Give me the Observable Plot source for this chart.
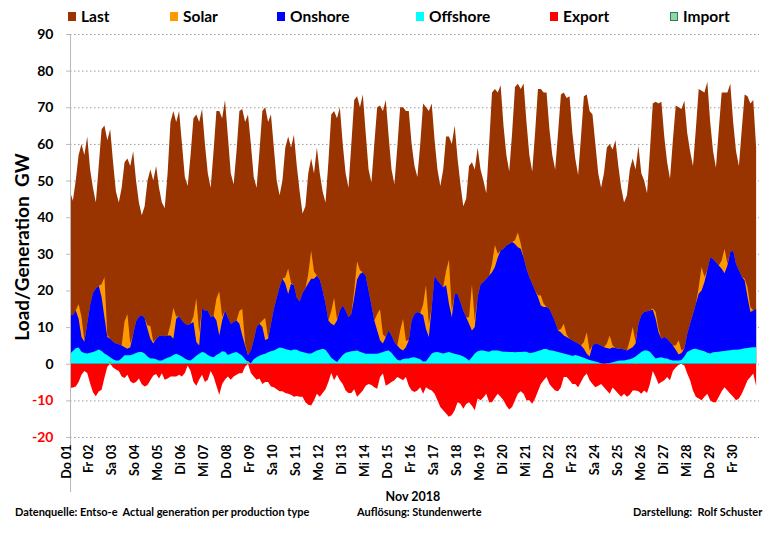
<!DOCTYPE html>
<html><head><meta charset="utf-8">
<script src="https://cdn.jsdelivr.net/npm/d3@7"></script>
<script src="https://cdn.jsdelivr.net/npm/@observablehq/plot@0.6"></script>
<style>
body{margin:0;background:#fff;}
#wrap{position:relative;width:774px;height:533px;font-family:Lato,"Open Sans",sans-serif;font-weight:bold;color:#000;}
#chart{position:absolute;left:0;top:0;}
.lg{position:absolute;top:7px;font-size:15.5px;line-height:18px;white-space:nowrap;}
.sw{position:absolute;top:12px;width:8px;height:9px;}
.ft{position:absolute;font-size:11px;white-space:pre;line-height:13px;}
</style></head>
<body><div id="wrap"><div id="chart"></div></div>
<script>
// ---- data: 3-hourly values (00,03,06,09,12,15,18,21 h) for each day of Nov 2018, GW ----
const legendNames = ["Last","Solar","Onshore","Offshore","Export","Import"];
const legendColors = ["#993300","#FF9900","#0000FF","#00FFFF","#FF0000","#66BB88"];
const dayLabels = ["Do 01","Fr 02","Sa 03","So 04","Mo 05","Di 06","Mi 07","Do 08","Fr 09","Sa 10",
  "So 11","Mo 12","Di 13","Mi 14","Do 15","Fr 16","Sa 17","So 18","Mo 19","Di 20",
  "Mi 21","Do 22","Fr 23","Sa 24","So 25","Mo 26","Di 27","Mi 28","Do 29","Fr 30"];
const yTicks = [-20,-10,0,10,20,30,40,50,60,70,80,90];

const load = [
47,44.5,50,57,60,57,62,53,
48,44,54,64,65,61,64,55,
47,44,48,55,56,54,58,50,
44,40.5,43,50,53,50,54,48,
44,42.5,52,66,69,66,69,60,
51,48.5,57,67,68,66,69.5,60,
52,48,58,69,69,67,72,62,
52,49,58,69,69.5,66,68,60,
51,48,58,69,70,66,68,59,
50,46,50,59,62,59,62.5,54,
47,41,43,52,56,52,59,52,
47,44,55,68,69,67,70,60,
52,48,60,72,73,70,73.5,63,
53,49.5,60,70,70.5,69,72,62,
53,49,59,70,70,69,69,60,
54,51,60,71,70,69,71,61,
53,48.5,53,62,62,60,65,56,
49,43,45,54,55,53,59,53,
50,46.5,60,74,75,74,76,65,
57,52.5,63,75.5,76.4,75,76.5,66,
57,52.5,63,75,75,74,74,64,
57,53,63,73.5,74,72.5,73,63,
56,51.5,62,73,73.5,69,68,60,
52,48,52,59,60,58.5,61,54,
48,44,46,53,56,53,59.5,52,
50,46.5,58,71,71.5,71,71.5,62,
55,50.5,61,70.5,70,69.5,71.8,63,
58,54,64,75,74.5,74,77,66,
58,53.5,64,74,74,74,76.4,66,
58,54,64,73.5,73,71,72,59];

const offshore = [
2.7,3.5,4.2,4.4,3.3,2.9,2.8,3.0,
3.2,3.5,3.9,3.5,2.8,2.3,1.8,1.2,
0.9,0.9,1.5,2.3,2.3,2.3,2.6,2.9,
3.2,3.2,2.8,2.0,1.4,1.4,1.2,0.9,
0.9,1.3,1.6,1.9,2.4,2.7,2.4,2.0,
1.4,1.0,0.9,1.5,2.2,2.7,3.2,3.0,
2.4,2.0,1.8,2.4,2.8,3.4,3.3,2.4,
2.7,3.0,3.2,2.7,2.2,1.2,0.5,0.1,
1.2,1.8,2.2,2.5,2.7,3.1,3.4,3.6,
4.0,4.4,4.3,4.0,3.8,3.6,3.9,3.8,
3.4,3.2,3.0,2.8,2.8,3.2,3.6,3.8,
4.1,3.8,2.8,1.6,1.0,0.5,1.4,2.4,
3.0,3.2,3.4,3.5,3.6,3.3,3.0,2.7,
2.7,2.7,2.7,2.7,2.9,3.2,3.5,3.6,
3.0,2.0,1.1,0.9,1.3,1.4,1.4,1.7,
1.8,1.5,1.2,0.6,0.7,1.7,2.8,3.1,
3.2,3.0,2.8,3.0,3.2,2.9,2.7,2.5,
2.3,2.0,1.5,0.9,1.8,2.8,3.4,3.6,
3.6,3.4,3.3,3.6,3.6,3.6,3.4,3.3,
3.3,3.2,3.2,3.1,3.2,3.2,3.3,3.3,
2.9,3.0,3.2,3.5,3.7,4.0,4.0,3.7,
3.6,3.4,3.2,3.0,2.8,2.6,2.4,2.1,
2.4,2.2,1.9,1.6,1.3,1.0,0.8,0.6,
0.4,0.1,0.0,0.1,0.2,0.4,0.6,0.8,
0.9,0.9,1.1,1.2,1.5,2.0,2.6,3.2,
3.6,3.6,3.3,2.3,1.4,1.6,1.8,1.5,
1.4,1.1,0.9,0.9,0.9,1.0,2.0,3.2,
3.6,4.0,4.1,3.8,3.6,3.4,3.0,2.8,
3.1,3.2,3.3,3.4,3.5,3.6,3.7,3.8,
3.8,3.9,4.0,4.2,4.3,4.4,4.5,4.5];

const onshore = [
10.9,9.7,10.3,7.9,4.0,3.1,8.2,13.0,
16.1,17.0,17.4,14.7,9.9,5.0,5.0,4.8,
4.6,4.4,3.5,2.2,1.8,2.2,5.4,8.6,
9.6,10.0,9.7,7.5,5.4,4.1,5.6,6.6,
6.8,6.2,6.1,5.8,4.4,9.6,10.6,9.8,
9.6,9.5,10.0,9.9,3.7,2.3,11.8,11.5,
12.1,10.7,11.2,9.4,4.9,8.4,11.2,10.3,
8.2,8.4,8.6,8.2,5.5,3.8,1.8,3.5,
5.3,8.2,8.7,7.5,3.8,3.7,7.5,11.4,
14.0,16.6,18.9,17.8,15.2,18.2,17.5,14.2,
13.6,16.1,17.5,19.2,20.4,20.0,20.4,19.2,
15.9,12.6,9.0,9.3,9.5,11.3,13.1,13.5,
11.5,9.5,10.2,14.5,19.4,21.2,22.0,21.3,
17.3,13.3,9.1,6.4,3.5,2.3,3.8,5.5,
4.7,3.9,3.9,3.2,2.3,3.1,5.0,10.1,
11.8,12.6,12.6,12.6,8.8,5.6,12.7,20.9,
19.5,18.8,18.1,18.4,13.2,9.8,16.3,16.5,
14.5,12.5,11.2,10.0,7.3,7.2,14.8,18.0,
18.7,19.8,20.8,21.4,22.8,25.4,27.5,28.1,
29.0,29.5,30.0,29.6,28.6,28.2,25.7,22.7,
20.7,18.8,16.8,14.7,12.2,11.5,11.5,11.3,
9.6,8.0,5.9,5.6,4.9,4.7,4.4,4.3,
3.5,3.3,3.1,2.5,1.4,1.0,4.2,4.9,
4.9,4.9,4.5,4.2,3.9,4.0,3.7,3.3,
3.2,3.0,2.5,2.9,3.0,3.5,8.3,10.0,
10.5,10.7,11.2,12.4,10.9,7.0,5.0,5.8,
5.4,4.8,4.1,2.9,1.6,1.9,2.1,5.0,
7.3,9.6,12.3,15.3,16.4,18.9,22.5,26.2,
25.5,24.5,23.5,22.5,21.2,23.2,26.8,27.1,
23.5,21.6,19.8,18.5,13.9,9.7,10.0,10.5];

const solar = [
0,0,0,4,5.5,0.3,0,0,
0,0,0,3.5,11,0.5,0,0,
0,0,0,7,9.5,1,0,0,
0,0,0,1,3.5,0.5,0,0,
0,0,0,3,8.5,0.5,0,0,
0,0,0,1.5,12,3.5,0,0,
0,0,0,6,12,1,0,0,
0,0,0,3.5,7.3,0.5,0,0,
0,0,0,1.8,6,0.2,0,0,
0,0,0,1.8,7,0.3,0,0,
0,0,0,2.5,7.7,2,0,0,
0,0,0,3.5,7.5,0.3,0,0,
0,0,0,2,5,1,0,0,
0,0,0,4.5,8.5,2.5,0,0,
0,0,0,5,8.7,1.8,0,0,
0,0,0,3,12,3.5,0,0,
0,0,0,4,12,1.8,0,0,
0,0,0,1.8,12.5,1.8,0,0,
0,0,0,2.3,6,1,0,0,
0,0,0,1,4,1.4,0,0,
0,0,0,0.5,2.7,0.9,0,0,
0,0,0,0.9,3.2,0.6,0,0,
0,0,0,1.8,5.9,1.6,0,0,
0,0,0,1.2,3.6,0.6,0,0,
0,0,0,2.3,5.5,0.5,0,0,
0,0,0,0.4,1.8,0.9,0,0,
0,0,0,1.2,3.9,0.7,0,0,
0,0,0,1.8,6.4,1.4,0,0,
0,0,0,2.3,6.7,0.5,0,0,
0,0,0,0.5,2.7,1.4,0,0];

const exportGW = [
-6.6,-6.5,-6.2,-5,-3,-2,-2.5,-5.3,
-7.8,-8.9,-7.6,-7.1,-3.8,-0.8,0,-1,
-1.6,-2,-3.5,-3.9,-3,-4.8,-5.3,-5,
-4,-5.6,-6.2,-5.8,-4.5,-3.2,-2.8,-4,
-2.6,-4.4,-4,-3.5,-3.5,-3.5,-3,-3.5,
-2.5,-0.5,-2,-5,-6,-4.3,-3,-5,
-4.4,-2,-3.5,-6,-8.5,-5.5,-4.3,-3.5,
-4.4,-3.5,-3,-2.6,-2.6,-0.8,0,-2.5,
-3.5,-4.4,-4,-5.5,-5,-5,-6.2,-6.4,
-7,-7.5,-7.5,-8,-8.2,-8.5,-9,-8.8,
-9,-9,-10.5,-11.2,-11.4,-10,-8.2,-9,
-8,-7,-5,-2.5,-4.5,-3,-4.5,-5.5,
-7.3,-8,-8,-7,-9,-8.2,-7.3,-6,
-5.5,-5.8,-6.4,-6.8,-3.6,-2.7,-6,-5.5,
-5,-4.5,-3.6,-4,-4.5,-3.6,-6,-7.3,
-7.7,-7.3,-6.4,-8.2,-6.4,-7,-7.3,-8.2,
-10,-11.8,-12.7,-13.6,-14.5,-14,-12.7,-10.5,
-10.9,-12.3,-11,-10.5,-11.5,-12.7,-9.5,-10,
-9.2,-8.2,-10.5,-10.5,-9.3,-8.2,-9,-10,
-11.5,-12.5,-11.8,-10,-8.2,-7.5,-8.2,-10,
-10,-10.9,-9.5,-7.5,-5.5,-4.5,-3.6,-5.5,
-6.5,-7.3,-7.5,-6.4,-3.6,-3.6,-4.5,-5.5,
-5.5,-6.4,-5,-3.5,-2.7,-4.5,-5.5,-6.4,
-6,-5.5,-6.4,-7.3,-8.2,-6.5,-7.3,-8.2,
-9,-8.2,-9,-8.5,-7.3,-7.3,-7.5,-8.2,
-7.3,-8,-5.5,-2,-3.6,-5.5,-5,-4.5,
-3.6,-4.5,-2,-1,-0.3,0,-0.5,-2.7,
-4.5,-7.3,-9,-9.5,-10,-9,-8.2,-10,
-10.5,-10.5,-9,-7.5,-6.4,-7.3,-8.2,-9,
-10,-9.5,-8.2,-6.4,-4.5,-3.6,-2.7,-6];

const importGW = [
0,0,0,0,0,0,0,0, 0,0,0,0,0,0,0.8,0, 0,0,0,0,0,0,0,0, 0,0,0,0,0,0,0,0,
0,0,0,0,0,0,0,0, 0,0,0,0,0,0,0,0, 0,0,0,0,0,0,0,0, 0,0,0,0,0,0,0.8,0,
0,0,0,0,0,0,0,0, 0,0,0,0,0,0,0,0, 0,0,0,0,0,0,0,0, 0,0,0,0,0,0,0,0,
0,0,0,0,0,0,0,0, 0,0,0,0,0,0,0,0, 0,0,0,0,0,0,0,0, 0,0,0,0,0,0,0,0,
0,0,0,0,0,0,0,0, 0,0,0,0,0,0,0,0, 0,0,0,0,0,0,0,0, 0,0,0,0,0,0,0,0,
0,0,0,0,0,0,0,0, 0,0,0,0,0,0,0,0, 0,0,0,0,0,0,0,0, 0,0,0,0,0,0,0,0,
0,0,0,0,0,0.3,0,0, 0,0,0,0,0,0,0,0, 0,0,0,0,0,0,0,0, 0,0,0,0,0,0,0,0];

// ---- build table ----
const t0 = Date.UTC(2018,10,1), t1 = Date.UTC(2018,11,1), H = 3600e3;
const rows = load.map((v,i)=>({
  t: new Date(t0 + i*3*H), load: v, off: offshore[i],
  wind: offshore[i] + onshore[i], tot: offshore[i] + onshore[i] + solar[i],
  exp: exportGW[i], imp: importGW[i]
}));
const days = dayLabels.map((lab,i)=>({lab, t: new Date(t0 + i*24*H)}));
const x0 = new Date(t0), xTick = new Date(t0 - 4*H);

const chart = Plot.plot({
  width: 774, height: 533,
  marginLeft: 70, marginRight: 15, marginTop: 34, marginBottom: 96,
  x: {type: "utc", domain: [new Date(t0), new Date(t1)], axis: null},
  y: {domain: [-20, 90], axis: null},
  style: {fontFamily: "Lato, 'Open Sans', sans-serif", fontWeight: "bold", background: "white", overflow: "visible"},
  marks: [
    Plot.ruleY(yTicks, {stroke: "#9a9a9a", strokeDasharray: "1.5,2.5"}),
    Plot.areaY(rows, {x: "t", y1: 0, y2: "load", fill: legendColors[0]}),
    Plot.areaY(rows, {x: "t", y1: 0, y2: "tot", fill: legendColors[1]}),
    Plot.areaY(rows, {x: "t", y1: 0, y2: "wind", fill: legendColors[2]}),
    Plot.areaY(rows, {x: "t", y1: 0, y2: "off", fill: legendColors[3]}),
    Plot.areaY(rows, {x: "t", y1: 0, y2: "exp", fill: legendColors[4]}),
    Plot.areaY(rows, {x: "t", y1: 0, y2: "imp", fill: legendColors[5]}),
    Plot.ruleX([x0], {y1: 90, y2: -35, stroke: "#b8b8b8"}),
    Plot.ruleY(yTicks, {x1: xTick, x2: x0, stroke: "#b8b8b8"}),
    Plot.text(yTicks.filter(d => d >= 0), {y: d => d, frameAnchor: "left", dx: -17, textAnchor: "end", fill: "#000", fontSize: 14, fontWeight: "bold"}),
    Plot.text(yTicks.filter(d => d < 0), {y: d => d, frameAnchor: "left", dx: -17, textAnchor: "end", fill: "#FF0000", fontSize: 14, fontWeight: "bold"}),
    Plot.text(days, {x: "t", text: "lab", frameAnchor: "bottom", rotate: -90, textAnchor: "end", dy: 7, fontSize: 12.5, fontWeight: "bold", fill: "#000"}),
    Plot.text(["Load/Generation  GW"], {frameAnchor: "left", dx: -48, dy: 11, rotate: -90, textAnchor: "middle", fontSize: 19, fontWeight: "bold", fill: "#000"})
  ]
});
document.getElementById("chart").appendChild(chart);

// ---- legend & captions (HTML) ----
const wrap = document.getElementById("wrap");
const swX = [68, 170, 277, 416, 550, 670];
legendNames.forEach((n,i)=>{
  const s = document.createElement("div"); s.className = "sw";
  s.style.left = swX[i] + "px"; s.style.background = legendColors[i];
  if (i === 5) { s.style.boxSizing = "border-box"; s.style.border = "1px solid #2E7D4F"; s.style.background = "#8FD6A8"; }
  wrap.appendChild(s);
  const l = document.createElement("div"); l.className = "lg";
  l.style.left = (swX[i] + 13) + "px"; l.textContent = n; wrap.appendChild(l);
});
function cap(txt, left, top, size, center){
  const d = document.createElement("div"); d.className = "ft"; d.textContent = txt;
  d.style.left = left + "px"; d.style.top = top + "px"; d.style.fontSize = size + "px";
  if (center) d.style.transform = "translateX(-50%)";
  wrap.appendChild(d);
}
cap("Nov 2018", 413, 490, 12.5, true);
cap("Datenquelle: Entso-e  Actual generation per production type", 15, 505, 11);
cap("Auflösung: Stundenwerte", 357, 505, 11);
cap("Darstellung:  Rolf Schuster", 633, 505, 11);
</script></body></html>
